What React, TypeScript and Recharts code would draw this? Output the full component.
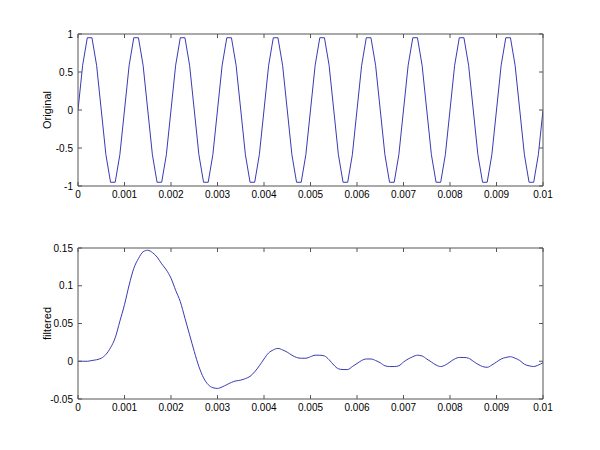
import React from 'react';
import { LineChart, Line, XAxis, YAxis } from 'recharts';

// sample spacing of both signals (seconds)
const TIME_STEP = 0.0001;

const ORIGINAL = [
  0, 0.588, 0.951, 0.951, 0.588, 0, -0.588, -0.951, -0.951, -0.588,
  0, 0.588, 0.951, 0.951, 0.588, 0, -0.588, -0.951, -0.951, -0.588,
  0, 0.588, 0.951, 0.951, 0.588, 0, -0.588, -0.951, -0.951, -0.588,
  0, 0.588, 0.951, 0.951, 0.588, 0, -0.588, -0.951, -0.951, -0.588,
  0, 0.588, 0.951, 0.951, 0.588, 0, -0.588, -0.951, -0.951, -0.588,
  0, 0.588, 0.951, 0.951, 0.588, 0, -0.588, -0.951, -0.951, -0.588,
  0, 0.588, 0.951, 0.951, 0.588, 0, -0.588, -0.951, -0.951, -0.588,
  0, 0.588, 0.951, 0.951, 0.588, 0, -0.588, -0.951, -0.951, -0.588,
  0, 0.588, 0.951, 0.951, 0.588, 0, -0.588, -0.951, -0.951, -0.588,
  0, 0.588, 0.951, 0.951, 0.588, 0, -0.588, -0.951, -0.951, -0.588,
  0,
];

const FILTERED = [
  0.0, 0.0, 0.0, 0.001, 0.002, 0.004, 0.009, 0.018, 0.031, 0.053,
  0.075, 0.101, 0.123, 0.136, 0.145, 0.147, 0.144, 0.138, 0.129, 0.121,
  0.11, 0.094, 0.079, 0.057, 0.035, 0.013, -0.007, -0.022, -0.031, -0.035,
  -0.036, -0.034, -0.031, -0.028, -0.026, -0.025, -0.023, -0.02, -0.014, -0.006,
  0.003, 0.011, 0.015, 0.017, 0.015, 0.012, 0.008, 0.005, 0.004, 0.004,
  0.006, 0.008, 0.008, 0.007, 0.002, -0.005, -0.01, -0.011, -0.011, -0.007,
  -0.003, 0.001, 0.003, 0.003, 0.001, -0.002, -0.006, -0.007, -0.007, -0.006,
  -0.001, 0.003, 0.006, 0.008, 0.007, 0.003, -0.001, -0.005, -0.007, -0.005,
  -0.001, 0.003, 0.005, 0.005, 0.004, 0.0, -0.004, -0.007, -0.008, -0.005,
  -0.001, 0.003, 0.005, 0.006, 0.004, 0.001, -0.004, -0.006, -0.007, -0.005,
  -0.002,
];

const X_TICKS = [0, 0.001, 0.002, 0.003, 0.004, 0.005, 0.006, 0.007, 0.008, 0.009, 0.01];
const TOP_Y_TICKS = [-1, -0.5, 0, 0.5, 1];
const BOTTOM_Y_TICKS = [-0.05, 0, 0.05, 0.1, 0.15];

const topData = ORIGINAL.map((v, i) => ({ t: +(i * TIME_STEP).toFixed(4), v }));
const bottomData = FILTERED.map((v, i) => ({ t: +(i * TIME_STEP).toFixed(4), v }));

const LINE_COLOR = '#3a3ab4';
const AXIS_COLOR = '#555';
const tickStyle = { fontSize: 10, fill: '#000' };

const yTitle = (text: string) => (props: any) => {
  const vb = props.viewBox || {};
  const cx = 48;
  const cy = vb.y + vb.height / 2;
  return (
    <text
      x={cx}
      y={cy}
      transform={`rotate(-90, ${cx}, ${cy})`}
      textAnchor="middle"
      dominantBaseline="middle"
      fontSize={11}
      fill="#000"
    >
      {text}
    </text>
  );
};

const Panel = ({
  data,
  yDomain,
  yTicks,
  title,
  top,
  xHeight,
  curve,
}: {
  data: { t: number; v: number }[];
  yDomain: [number, number];
  yTicks: number[];
  title: string;
  top: number;
  xHeight: number;
  curve: 'linear' | 'monotone';
}) => (
  <LineChart width={600} height={225} data={data} margin={{ top: top - 1, right: 56, left: 0, bottom: 0 }}>
    <XAxis
      dataKey="t"
      type="number"
      domain={[0, 0.01]}
      ticks={X_TICKS}
      tickFormatter={(v: number) => String(v)}
      height={xHeight}
      stroke={AXIS_COLOR}
      tickSize={-4}
      tickMargin={9}
      tick={tickStyle}
      allowDataOverflow
    />
    <XAxis
      xAxisId="top"
      orientation="top"
      dataKey="t"
      type="number"
      domain={[0, 0.01]}
      ticks={X_TICKS}
      height={1}
      stroke={AXIS_COLOR}
      tickSize={-4}
      tickFormatter={() => ''}
      allowDataOverflow
    />
    <YAxis
      type="number"
      domain={yDomain}
      ticks={yTicks}
      tickFormatter={(v: number) => String(v)}
      width={78}
      stroke={AXIS_COLOR}
      tickSize={-4}
      tickMargin={9}
      tick={tickStyle}
      allowDataOverflow
      label={{ content: yTitle(title) }}
    />
    <YAxis
      yAxisId="right"
      orientation="right"
      type="number"
      domain={yDomain}
      ticks={yTicks}
      width={1}
      stroke={AXIS_COLOR}
      tickSize={-4}
      tickFormatter={() => ''}
      allowDataOverflow
    />
    <Line
      type={curve}
      dataKey="v"
      stroke={LINE_COLOR}
      strokeWidth={1}
      dot={false}
      isAnimationActive={false}
    />
  </LineChart>
);

export default function App() {
  return (
    <div
      style={{
        position: 'absolute',
        left: 0,
        top: 0,
        width: 600,
        height: 450,
        background: '#fff',
        fontFamily: '"Liberation Sans Narrow", "Liberation Sans", Arial, sans-serif',
      }}
    >
      <Panel data={topData} yDomain={[-1, 1]} yTicks={TOP_Y_TICKS} title="Original" top={34} xHeight={39} curve="linear" />
      <Panel data={bottomData} yDomain={[-0.05, 0.15]} yTicks={BOTTOM_Y_TICKS} title="filtered" top={23} xHeight={51} curve="monotone" />
    </div>
  );
}
